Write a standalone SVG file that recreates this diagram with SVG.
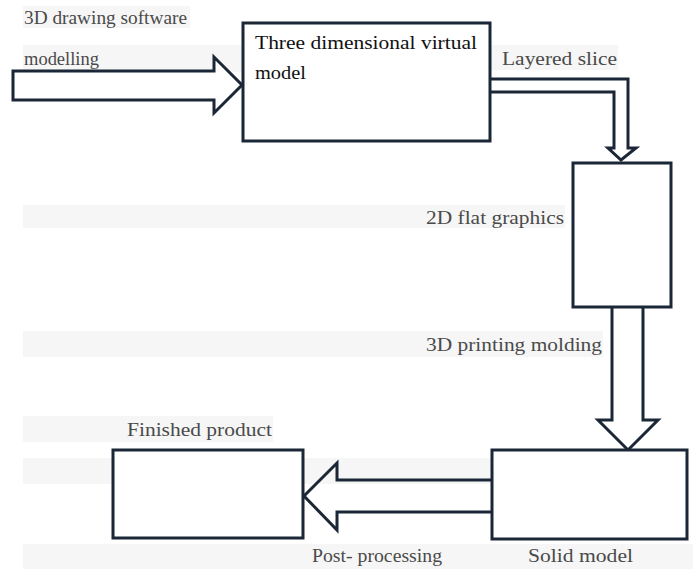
<svg xmlns="http://www.w3.org/2000/svg" width="693" height="569" viewBox="0 0 693 569">
  <style>
    .band { fill: #f6f6f6; }
    .box { fill: #ffffff; stroke: #1b2636; stroke-width: 3; }
    .flow { fill: #ffffff; stroke: #1b2636; stroke-width: 3; stroke-linejoin: miter; }
    text { font-family: 'Liberation Serif', 'Times New Roman', serif; font-size: 19px; }
    .lbl { fill: #4a4a4a; }
    .main { fill: #111111; }
  </style>

  <rect width="693" height="569" fill="#ffffff"/>

  <!-- light highlight strips behind the labels -->
  <g id="bands">
    <rect class="band" x="23" y="6" width="167" height="22"/>
    <rect class="band" x="23" y="45" width="220" height="27"/>
    <rect class="band" x="491" y="45" width="127" height="25"/>
    <rect class="band" x="23" y="205" width="542" height="23"/>
    <rect class="band" x="23" y="331" width="580" height="26"/>
    <rect class="band" x="23" y="416" width="250" height="26"/>
    <rect class="band" x="23" y="458" width="469" height="26"/>
    <rect class="band" x="23" y="544" width="670" height="25"/>
  </g>

  <!-- block arrows between stages -->
  <g id="connectors">
    <polygon class="flow" points="13,71 214,71 214,57 242,85 214,113 214,100 13,100"/>
    <polyline class="flow" points="490,79 628,79 628,148 636,148 621,160 608,148 614,148 614,92 490,92"/>
    <polyline class="flow" points="612,307 612,420 598,420 628,450 658,420 643,420 643,307"/>
    <polyline class="flow" points="492,480 337,480 337,463 304,496 337,530 337,512 492,512" style="fill:none"/>
  </g>

  <g id="virtual-model">
    <rect class="box" x="243" y="23" width="247" height="118"/>
    <text class="main" x="255" y="49" textLength="222" lengthAdjust="spacingAndGlyphs">Three dimensional virtual</text>
    <text class="main" x="255" y="79" textLength="51" lengthAdjust="spacingAndGlyphs">model</text>
  </g>

  <g id="flat-graphics">
    <rect class="box" x="573" y="163" width="98" height="144"/>
  </g>

  <g id="solid-model">
    <rect class="box" x="492" y="450" width="195" height="89"/>
  </g>

  <g id="finished-product">
    <rect class="box" x="113" y="450" width="190" height="88"/>
  </g>

  <g id="labels">
    <text class="lbl" x="24" y="24" textLength="163" lengthAdjust="spacingAndGlyphs">3D drawing  software</text>
    <text class="lbl" x="24" y="65" textLength="75" lengthAdjust="spacingAndGlyphs">modelling</text>
    <text class="lbl" x="502" y="65" textLength="115" lengthAdjust="spacingAndGlyphs">Layered slice</text>
    <text class="lbl" x="426" y="224" textLength="138" lengthAdjust="spacingAndGlyphs">2D flat graphics</text>
    <text class="lbl" x="426" y="351" textLength="176" lengthAdjust="spacingAndGlyphs">3D printing molding</text>
    <text class="lbl" x="127" y="436" textLength="145" lengthAdjust="spacingAndGlyphs">Finished product</text>
    <text class="lbl" x="312" y="562" textLength="130" lengthAdjust="spacingAndGlyphs">Post- processing</text>
    <text class="lbl" x="528" y="562" textLength="105" lengthAdjust="spacingAndGlyphs">Solid model</text>
  </g>
</svg>
